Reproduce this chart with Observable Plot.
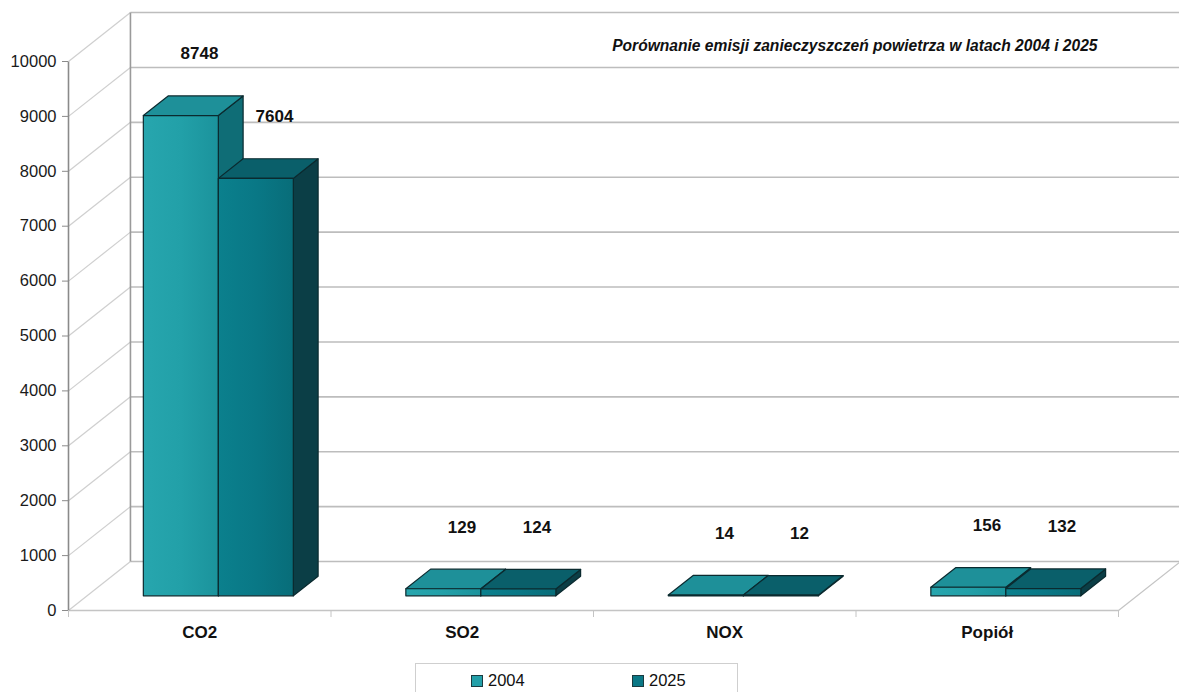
<!DOCTYPE html>
<html>
<head>
<meta charset="utf-8">
<script src="https://cdn.jsdelivr.net/npm/d3@7"></script>
<script src="https://cdn.jsdelivr.net/npm/@observablehq/plot@0.6"></script>
<style>
  html, body { margin: 0; padding: 0; background: #fff; }
  body { font-family: "Liberation Sans", Arial, sans-serif; width: 1179px; }
  #legend {
    margin-left: 415px; margin-top: 8px; width: 323px; height: 40px;
    border: 1px solid #cfcfcf; box-sizing: border-box;
    font-size: 16.5px; color: #111; position: relative;
  }
  #legend .item { position: absolute; top: 7px; display: flex; align-items: center; }
  #legend .sw { width: 10px; height: 10px; border: 1px solid #1b3b40; margin-right: 5px; }
</style>
</head>
<body>
<div id="chart"></div>
<div id="legend"></div>
<script>
// Air pollutant emissions, 2004 vs 2025
const categories = ["CO2", "SO2", "NOX", "Popiół"];
const years = ["2004", "2025"];
const values2004 = [8748, 129, 14, 156];
const values2025 = [7604, 124, 12, 132];
const yTicks = [0, 1000, 2000, 3000, 4000, 5000, 6000, 7000, 8000, 9000, 10000];
const title = "Porównanie emisji zanieczyszczeń powietrza w latach 2004 i 2025";

// Oblique 3D projection done in data units: depth z in [0, 1] shifts right and up
const DX = 0.236;   // category units per full depth
const DY = 892;     // value units per full depth
const proj = (x, v, z) => ({x: x + z * DX, y: v + z * DY});

const groupWidth = 0.5714;
const barWidth = groupWidth / 2;
const z0 = 0.3, z1 = 0.7;

const frontFaces = [], topFaces = [], sideFaces = [], valueLabels = [];
const seriesValues = [values2004, values2025];
seriesValues.forEach((vals, j) => {
  vals.forEach((v, i) => {
    const x1 = i + (1 - groupWidth) / 2 + j * barWidth;
    const x2 = x1 + barWidth;
    const id = `${years[j]}-${categories[i]}`;
    const poly = (arr, pts) => pts.forEach(p => arr.push({...p, id, year: years[j]}));
    poly(frontFaces, [proj(x1, 0, z0), proj(x2, 0, z0), proj(x2, v, z0), proj(x1, v, z0), proj(x1, 0, z0)]);
    poly(topFaces, [proj(x1, v, z0), proj(x2, v, z0), proj(x2, v, z1), proj(x1, v, z1), proj(x1, v, z0)]);
    poly(sideFaces, [proj(x2, 0, z0), proj(x2, 0, z1), proj(x2, v, z1), proj(x2, v, z0), proj(x2, 0, z0)]);
    const c = proj((x1 + x2) / 2, v, 0.6);
    valueLabels.push({x: c.x, y: v + z1 * DY, text: String(v)});
  });
});

const colors = {
  "2004": {front: "url(#g2004)", top: "#1e9099", side: "#0f6d76", swatch: "#23a0a9"},
  "2025": {front: "url(#g2025)", top: "#0a5f6a", side: "#0b3e46", swatch: "#0a7886"}
};
const edge = "#0b2a2f";

const faceMarks = [];
for (const [face, data] of [["side", sideFaces], ["top", topFaces], ["front", frontFaces]]) {
  for (const y of years) {
    faceMarks.push(Plot.line(data.filter(d => d.year === y), {
      x: "x", y: "y", z: "id", fill: colors[y][face], stroke: edge, strokeWidth: 1.2, strokeLinejoin: "round"
    }));
  }
}

const nCat = categories.length;
const back = yTicks.map(v => ({a: proj(0, v, 1), b: proj(nCat, v, 1), f: proj(0, v, 0)}));

const chart = Plot.plot({
  width: 1179,
  height: 655,
  marginLeft: 68,
  marginRight: 61,
  marginTop: 61,
  marginBottom: 45,
  style: {fontFamily: "'Liberation Sans', Arial, sans-serif", color: "#111", background: "#fff"},
  x: {domain: [0, nCat], axis: null},
  y: {domain: [0, 10000], axis: null},
  marks: [
    // back wall gridlines
    Plot.link(back, {x1: d => d.a.x, y1: d => d.a.y, x2: d => d.b.x, y2: d => d.b.y, stroke: "#bdbdbd", strokeWidth: 1.6}),
    // side wall diagonals
    Plot.link(back, {x1: d => d.f.x, y1: d => d.f.y, x2: d => d.a.x, y2: d => d.a.y, stroke: "#cfcfcf", strokeWidth: 1.2}),
    // back wall left edge
    Plot.link([0], {x1: proj(0, 0, 1).x, y1: proj(0, 0, 1).y, x2: proj(0, 10000, 1).x, y2: proj(0, 10000, 1).y, stroke: "#9a9a9a", strokeWidth: 1.6}),
    // floor front edge and right edge
    Plot.link([0], {x1: 0, y1: 0, x2: nCat, y2: 0, stroke: "#c4c4c4", strokeWidth: 1.6}),
    Plot.link([0], {x1: nCat, y1: 0, x2: proj(nCat, 0, 1).x, y2: proj(nCat, 0, 1).y, stroke: "#c4c4c4", strokeWidth: 1.2}),
    // front value axis line
    Plot.link([0], {x1: 0, y1: 0, x2: 0, y2: 10000, stroke: "#8a8a8a", strokeWidth: 1.6}),
    Plot.axisY({ticks: yTicks, tickFormat: d3.format("d"), tickSize: 6, tickPadding: 6, fontSize: 16.5, stroke: "#8a8a8a", color: "#1a1a1a", label: null}),
    Plot.axisX({ticks: d3.range(0, nCat + 1), tickFormat: () => "", tickSize: 7, stroke: "#c4c4c4", label: null}),
    Plot.text(categories, {x: (d, i) => i + 0.5, y: 0, dy: 22, text: d => d, fontSize: 17, fontWeight: "bold"}),
    ...faceMarks,
    Plot.text(valueLabels, {x: "x", y: "y", text: "text", dy: -42, fontSize: 17, fontWeight: "bold"}),
    Plot.text([title], {frameAnchor: "top-right", textAnchor: "end", lineAnchor: "middle", dx: -21, dy: -16,
      fontSize: 15.6, fontWeight: "bold", fontStyle: "italic"})
  ]
});

// gradients for the lit front faces
const ns = "http://www.w3.org/2000/svg";
const defs = document.createElementNS(ns, "defs");
defs.innerHTML = `
  <linearGradient id="g2004" x1="0" x2="1" y1="0" y2="0">
    <stop offset="0" stop-color="#27a6ae"/><stop offset="0.5" stop-color="#22a0a8"/><stop offset="1" stop-color="#1b939c"/>
  </linearGradient>
  <linearGradient id="g2025" x1="0" x2="1" y1="0" y2="0">
    <stop offset="0" stop-color="#0b808d"/><stop offset="0.5" stop-color="#097886"/><stop offset="1" stop-color="#086d79"/>
  </linearGradient>`;
chart.insertBefore(defs, chart.firstChild);
document.getElementById("chart").append(chart);

// legend
const legend = document.getElementById("legend");
years.forEach((y, j) => {
  const item = document.createElement("div");
  item.className = "item";
  item.style.left = (j === 0 ? 55 : 216) + "px";
  item.innerHTML = `<span class="sw" style="background:${colors[y].swatch}"></span><span>${y}</span>`;
  legend.append(item);
});
</script>
</body>
</html>
